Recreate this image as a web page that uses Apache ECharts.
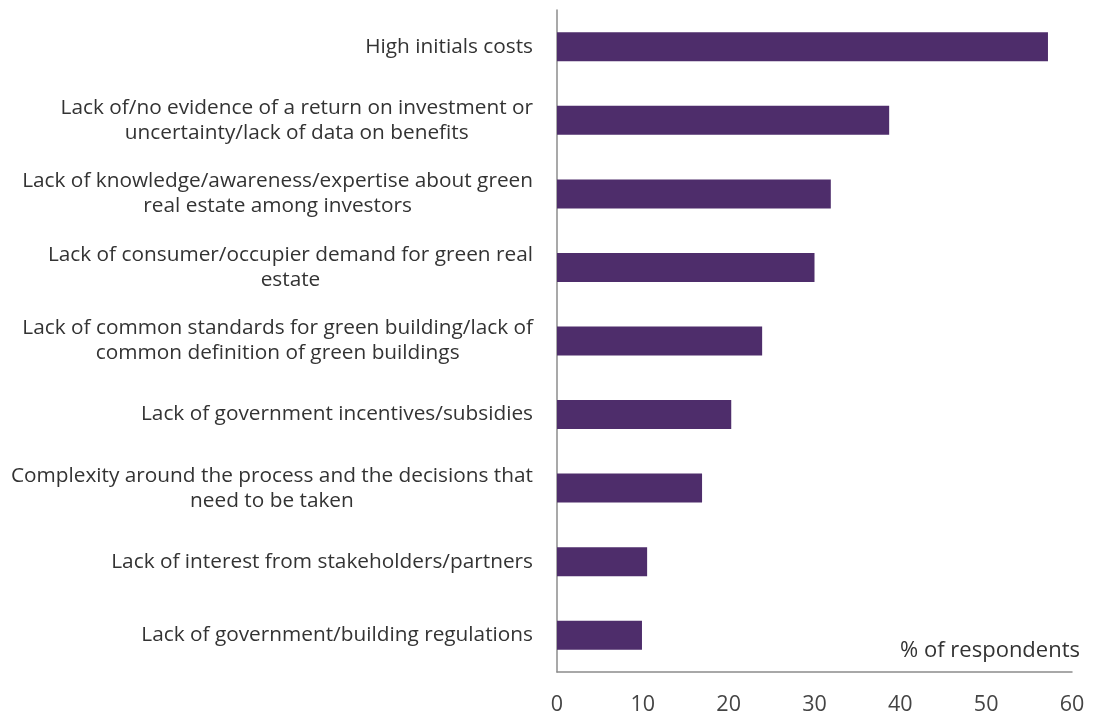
<!DOCTYPE html>
<html>
<head>
<meta charset="utf-8">
<script src="https://cdn.jsdelivr.net/npm/echarts@6/dist/echarts.min.js"></script>
<style>html,body{margin:0;padding:0;background:#fff;}#c{width:1093px;height:720px;}</style>
</head>
<body>
<div id="c"></div>
<script>
const categories = [
  "High initials costs",
  "Lack of/no evidence of a return on investment or\nuncertainty/lack of data on benefits",
  "Lack of knowledge/awareness/expertise about green\nreal estate among investors",
  "Lack of consumer/occupier demand for green real\nestate",
  "Lack of common standards for green building/lack of\ncommon definition of green buildings",
  "Lack of government incentives/subsidies",
  "Complexity around the process and the decisions that\nneed to be taken",
  "Lack of interest from stakeholders/partners",
  "Lack of government/building regulations"
];
const values = [57.2, 38.7, 31.9, 30.0, 23.9, 20.3, 16.9, 10.5, 9.9];
const xTicks = [0, 10, 20, 30, 40, 50, 60];
const axisTitle = "% of respondents";

const chart = echarts.init(document.getElementById('c'));
chart.setOption({
  animation: false,
  backgroundColor: '#ffffff',
  textStyle: { fontFamily: 'Open Sans' },
  grid: { left: 557, right: 21, top: 10, bottom: 48 },
  xAxis: {
    type: 'value', min: xTicks[0], max: xTicks[xTicks.length - 1], interval: 10,
    axisLine: { show: true, lineStyle: { color: '#8c8c8c', width: 1.5 } },
    axisTick: { show: false },
    splitLine: { show: false },
    axisLabel: { color: '#444', fontSize: 21.5, margin: 22, fontFamily: 'Open Sans' }
  },
  yAxis: {
    type: 'category', inverse: true, data: categories,
    axisLine: { show: true, lineStyle: { color: '#8c8c8c', width: 1.5 } },
    axisTick: { show: false },
    axisLabel: {
      margin: 24, align: 'right',
      formatter: v => v.split('\n').map(s => '{c|' + s + '}').join('\n'),
      rich: { c: { align: 'center', color: '#333', fontSize: 20.8, lineHeight: 25, fontFamily: 'Open Sans' } }
    }
  },
  graphic: [{
    type: 'text', right: 13, top: 640,
    style: { text: axisTitle, fill: '#333', fontSize: 22, fontFamily: 'Open Sans' }
  }],
  series: [{
    type: 'bar', data: values, barWidth: 29,
    itemStyle: { color: '#4e2d6b' }
  }]
});
</script>
</body>
</html>
